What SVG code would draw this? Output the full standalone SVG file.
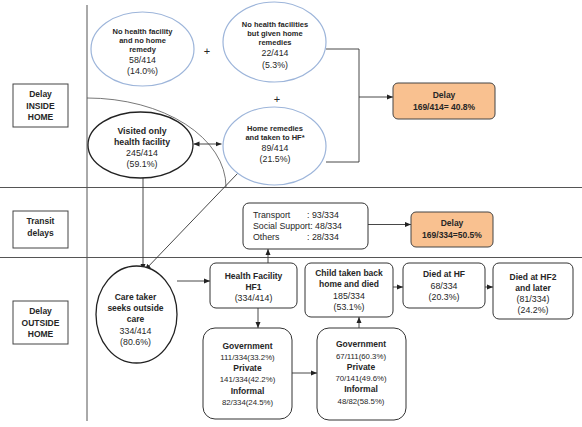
<svg xmlns="http://www.w3.org/2000/svg" width="582" height="427" viewBox="0 0 582 427">
<style>
text{font-family:"Liberation Sans",Arial,sans-serif;fill:#262626;text-anchor:middle}
.b{font-weight:bold;font-size:7.5px}
.bl{font-weight:bold;font-size:8.5px}
.n{font-size:8.8px}
.g{font-size:7.8px}
.grid{stroke:#555;stroke-width:1;fill:none}
.con{stroke:#333;stroke-width:0.9;fill:none}
.blue{fill:#fff;stroke:#9db5da;stroke-width:1.2}
.blk{fill:#fff;stroke:#222;stroke-width:1.3}
.box{fill:#fff;stroke:#333;stroke-width:1}
.lbl{fill:#fff;stroke:#444;stroke-width:1}
.org{fill:#f9c190;stroke:#444;stroke-width:1}
</style>
<defs>
<marker id="ah" viewBox="0 0 6 6" refX="6" refY="3" markerWidth="6" markerHeight="6" orient="auto" markerUnits="userSpaceOnUse">
<path d="M0,0.5 L6,3 L0,5.5 Z" fill="#222"/>
</marker>
<marker id="as" viewBox="0 0 6 6" refX="0" refY="3" markerWidth="6" markerHeight="6" orient="auto" markerUnits="userSpaceOnUse">
<path d="M6,0.5 L0,3 L6,5.5 Z" fill="#222"/>
</marker>
</defs>
<g id="grid">
<line class="grid" x1="87" y1="5" x2="87" y2="421"/>
<line class="grid" x1="0" y1="187.5" x2="582" y2="187.5"/>
<line class="grid" x1="0" y1="257.5" x2="582" y2="257.5"/>
<path d="M87,98 A139,89 0 0 1 226,187" fill="none" stroke="#555" stroke-width="0.8"/>
</g>
<g id="label-inside">
<rect class="lbl" x="13" y="84" width="55" height="43"/>
<text class="bl" x="40.5" y="97">Delay</text>
<text class="bl" x="40.5" y="108.5">INSIDE</text>
<text class="bl" x="40.5" y="120">HOME</text>
</g>
<g id="label-transit">
<rect class="lbl" x="13" y="211" width="55" height="37"/>
<text class="bl" x="40.5" y="224">Transit</text>
<text class="bl" x="40.5" y="235.5">delays</text>
</g>
<g id="label-outside">
<rect class="lbl" x="13" y="301" width="55" height="43"/>
<text class="bl" x="40.5" y="314">Delay</text>
<text class="bl" x="40.5" y="325.5">OUTSIDE</text>
<text class="bl" x="40.5" y="337">HOME</text>
</g>
<g id="plus">
<text x="207" y="55" style="font-size:11px">+</text>
<text x="277" y="103" style="font-size:11px">+</text>
</g>
<g id="connectors">
<line class="con" x1="193.5" y1="144" x2="221.5" y2="144" marker-start="url(#as)" marker-end="url(#ah)"/>
<polyline class="con" points="326,49 359,49 359,162 326,162"/>
<line class="con" x1="359" y1="97" x2="393" y2="97" marker-end="url(#ah)"/>
<line class="con" x1="143" y1="178" x2="143" y2="270" marker-end="url(#ah)"/>
<line class="con" x1="238" y1="173" x2="145" y2="270" marker-end="url(#ah)"/>
<line class="con" x1="177" y1="281" x2="210" y2="281" marker-end="url(#ah)"/>
<line class="con" x1="258" y1="308" x2="258" y2="328" marker-end="url(#ah)"/>
<line class="con" x1="268" y1="263" x2="268" y2="249" marker-end="url(#ah)"/>
<line class="con" x1="368" y1="224.5" x2="411" y2="224.5" marker-end="url(#ah)"/>
<line class="con" x1="292" y1="373" x2="317" y2="373" marker-end="url(#ah)"/>
<line class="con" x1="359" y1="328" x2="359" y2="317" marker-end="url(#ah)"/>
<line class="con" x1="393" y1="287" x2="403" y2="287" marker-end="url(#ah)"/>
<line class="con" x1="485" y1="287" x2="493" y2="287" marker-end="url(#ah)"/>
</g>
<g id="no-hf-no-remedy">
<ellipse class="blue" cx="142.5" cy="49" rx="51.5" ry="37"/>
<text class="b" x="142.5" y="33.5">No health facility</text>
<text class="b" x="142.5" y="42.5">and no home</text>
<text class="b" x="142.5" y="51.5">remedy</text>
<text class="n" x="142.5" y="63">58/414</text>
<text class="n" x="142.5" y="74">(14.0%)</text>
</g>
<g id="no-hf-home-remedies">
<ellipse class="blue" cx="274.5" cy="42" rx="51.5" ry="40"/>
<text class="b" x="275" y="26.5">No health facilities</text>
<text class="b" x="275" y="35.5">but given home</text>
<text class="b" x="275" y="45">remedies</text>
<text class="n" x="275" y="56">22/414</text>
<text class="n" x="275" y="67.5">(5.3%)</text>
</g>
<g id="home-remedies-hf">
<ellipse class="blue" cx="274.5" cy="146" rx="51.5" ry="39"/>
<text class="b" x="275" y="130.5">Home remedies</text>
<text class="b" x="275" y="139.5">and taken to HF*</text>
<text class="n" x="275" y="151">89/414</text>
<text class="n" x="275" y="162">(21.5%)</text>
</g>
<g id="visited-only-hf">
<ellipse class="blk" cx="140.5" cy="145" rx="52.5" ry="33"/>
<text class="bl" x="142" y="133.5" style="font-size:8.8px">Visited only</text>
<text class="bl" x="142" y="144.5" style="font-size:8.8px">health facility</text>
<text class="n" x="142" y="156">245/414</text>
<text class="n" x="142" y="167">(59.1%)</text>
</g>
<g id="delay-inside">
<rect class="org" x="393" y="83" width="102" height="36" rx="5"/>
<text class="bl" x="444" y="98">Delay</text>
<text class="bl" x="444" y="110">169/414= 40.8%</text>
</g>
<g id="transit">
<rect class="box" x="243" y="203" width="125" height="46" rx="6"/>
<text class="n" x="253" y="218" style="text-anchor:start">Transport</text>
<text class="n" x="253" y="229" style="text-anchor:start">Social Support: 48/334</text>
<text class="n" x="253" y="239.5" style="text-anchor:start">Others</text>
<text class="n" x="307" y="218" style="text-anchor:start">: 93/334</text>
<text class="n" x="307" y="239.5" style="text-anchor:start">: 28/334</text>
</g>
<g id="delay-transit">
<rect class="org" x="411" y="212" width="82" height="35" rx="5"/>
<text class="bl" x="452" y="226">Delay</text>
<text class="bl" x="452" y="237.5">169/334=50.5%</text>
</g>
<g id="care-taker">
<ellipse class="blk" cx="136.5" cy="314.5" rx="40.5" ry="48.5"/>
<text class="bl" x="135.5" y="300">Care taker</text>
<text class="bl" x="135.5" y="311">seeks outside</text>
<text class="bl" x="135.5" y="322">care</text>
<text class="n" x="135.5" y="333.5">334/414</text>
<text class="n" x="135.5" y="345">(80.6%)</text>
</g>
<g id="hf1">
<rect class="box" x="210" y="263" width="87" height="45" rx="6"/>
<text class="bl" x="253.5" y="279">Health Facility</text>
<text class="bl" x="253.5" y="290">HF1</text>
<text class="n" x="253.5" y="301">(334/414)</text>
</g>
<g id="hf1-type">
<rect class="box" x="203" y="328" width="89" height="91" rx="12"/>
<text class="bl" x="247.5" y="349">Government</text>
<text class="g" x="247.5" y="360">111/334(33.2%)</text>
<text class="bl" x="247.5" y="371">Private</text>
<text class="g" x="247.5" y="382">141/334(42.2%)</text>
<text class="bl" x="247.5" y="394">Informal</text>
<text class="g" x="247.5" y="405">82/334(24.5%)</text>
</g>
<g id="child-home-died">
<rect class="box" x="305" y="263" width="88" height="54" rx="6"/>
<text class="bl" x="349" y="276">Child taken back</text>
<text class="bl" x="349" y="287">home and died</text>
<text class="n" x="349" y="299">185/334</text>
<text class="n" x="349" y="310">(53.1%)</text>
</g>
<g id="died-hf">
<rect class="box" x="403" y="263" width="82" height="45" rx="6"/>
<text class="bl" x="444" y="277">Died at HF</text>
<text class="n" x="444" y="289">68/334</text>
<text class="n" x="444" y="300">(20.3%)</text>
</g>
<g id="died-hf2">
<rect class="box" x="493" y="263" width="80" height="56" rx="6"/>
<text class="bl" x="533" y="280">Died at HF2</text>
<text class="bl" x="533" y="290.5">and later</text>
<text class="n" x="533" y="301.5">(81/334)</text>
<text class="n" x="533" y="313">(24.2%)</text>
</g>
<g id="hf-type-died">
<rect class="box" x="317" y="328" width="89" height="92" rx="12"/>
<text class="bl" x="361" y="347">Government</text>
<text class="g" x="361" y="359">67/111(60.3%)</text>
<text class="bl" x="361" y="370">Private</text>
<text class="g" x="361" y="381">70/141(49.6%)</text>
<text class="bl" x="361" y="392">Informal</text>
<text class="g" x="361" y="404">48/82(58.5%)</text>
</g>
</svg>
